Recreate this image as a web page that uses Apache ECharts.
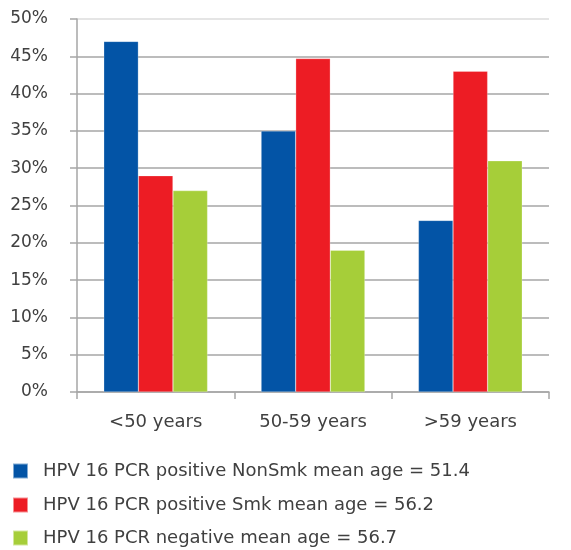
<!DOCTYPE html>
<html>
<head>
<meta charset="utf-8">
<style>
  html, body { margin: 0; padding: 0; background: #fff; }
  #chart { width: 571px; height: 550px; }
</style>
<script src="https://cdn.jsdelivr.net/npm/echarts@6/dist/echarts.min.js"></script>
</head>
<body>
<div id="chart"></div>
<script>
// 数据
const categories = ['<50 years', '50-59 years', '>59 years'];
const seriesNames = [
  'HPV 16 PCR positive NonSmk mean age = 51.4',
  'HPV 16 PCR positive Smk mean age = 56.2',
  'HPV 16 PCR negative mean age = 56.7',
];
const nonSmk = [47, 35, 23];
const smk = [29, 44.7, 43];
const negative = [27, 19, 31];
const colors = ['#0354a6', '#ed1c24', '#a6ce39'];

const FONT = '"DejaVu Sans", sans-serif';
const TEXT = '#404040';
const GRID = '#a6a6a6';
const GRID_TOP = '#dcdcdc';

const chart = echarts.init(document.getElementById('chart'), null, { renderer: 'canvas' });

const values = [nonSmk, smk, negative];
const legendTops = [462, 496, 529];

// 网格线颜色逐条循环：最上一条（50%）更浅
const splitColors = [GRID, GRID, GRID, GRID, GRID, GRID, GRID, GRID, GRID, GRID, GRID_TOP];

chart.setOption({
  animation: false,
  backgroundColor: '#fff',
  textStyle: { fontFamily: FONT, color: TEXT },
  grid: { left: 77, right: 22, top: 19, bottom: 158, containLabel: false },
  // 每行一个图例，逐行定位
  legend: seriesNames.map((name, i) => ({
    orient: 'vertical', left: 12, top: legendTops[i],
    itemWidth: 15, itemHeight: 15, padding: 0,
    icon: 'rect',
    textStyle: { fontFamily: FONT, fontSize: 18, color: TEXT, padding: [0, 0, 0, 10] },
    data: [name],
  })),
  xAxis: {
    type: 'category', data: categories,
    axisLine: { lineStyle: { color: GRID, width: 1.5 } },
    axisTick: { show: true, length: 7, lineStyle: { color: GRID, width: 1.5 } },
    axisLabel: { fontFamily: FONT, fontSize: 18, color: TEXT, margin: 21 },
  },
  yAxis: {
    type: 'value', min: 0, max: 50, interval: 5,
    axisLine: { show: true, lineStyle: { color: GRID, width: 1.5 } },
    axisTick: { show: true, length: 7, lineStyle: { color: GRID, width: 1.5 } },
    axisLabel: { fontFamily: FONT, fontSize: 17, color: TEXT, margin: 29,
      formatter: (v) => v + '%' },
    splitLine: { lineStyle: { color: splitColors, width: 1.5 } },
  },
  series: values.map((vals, i) => ({
    name: seriesNames[i], type: 'bar', data: vals,
    barGap: '0%', barCategoryGap: '34%',
    itemStyle: { color: colors[i], borderColor: 'rgba(255,255,255,0.5)', borderWidth: 0.5 },
  })),
});
</script>
</body>
</html>
